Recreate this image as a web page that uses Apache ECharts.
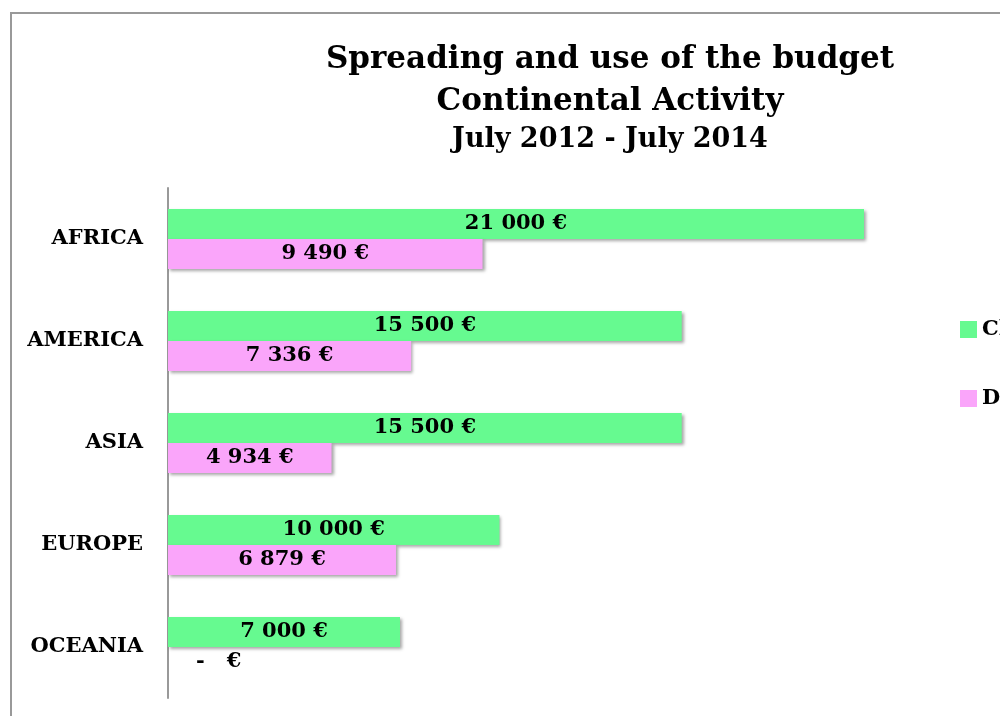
<!DOCTYPE html>
<html>
<head>
  <meta charset="utf-8" />
  <title>Spreading and use of the budget</title>
  <script src="https://cdn.jsdelivr.net/npm/echarts@6/dist/echarts.min.js"></script>
  <style>
    html, body, #main {
      width: 1000px;
      height: 716px;
      padding: 0;
      margin: 0;
      background: #fff;
      overflow: hidden;
    }
  </style>
</head>
<body>
<div id="main"></div>
<script>
  // data
  var continents = ['AFRICA', 'AMERICA', 'ASIA', 'EUROPE', 'OCEANIA'];
  var budgetName = 'Claimed budget';
  var usedName = 'Disbursed';
  var budgetValues = [21000, 15500, 15500, 10000, 7000];
  var usedValues = [9490, 7336, 4934, 6879, 0];

  var serif = 'DejaVu Serif';

  // "21 000 €" style, "-   €" for zero
  function euro(v) {
    if (!v) return '-   €';
    var s = String(Math.round(v));
    return s.replace(/\B(?=(\d{3})+(?!\d))/g, ' ') + ' €';
  }

  var labelStyle = {
    show: true,
    position: 'inside',
    color: '#000',
    fontFamily: serif,
    fontWeight: 'bold',
    fontSize: 21,
    formatter: function (p) { return euro(p.value); }
  };

  var shadow = {
    shadowColor: 'rgba(0,0,0,0.35)',
    shadowBlur: 3,
    shadowOffsetX: 2,
    shadowOffsetY: 2
  };

  var usedData = usedValues.map(function (v) {
    if (v) return v;
    // zero bar: put the dash label out to the right of the axis
    return { value: v, label: { position: 'right', distance: 28 } };
  });

  var chart = echarts.init(document.getElementById('main'), null, { renderer: 'canvas' });

  var option = {
    backgroundColor: '#fff',
    animation: false,
    title: {
      text: 'Spreading and use of the budget\nContinental Activity',
      subtext: 'July 2012 - July 2014',
      left: 605,
      top: 34,
      textAlign: 'center',
      itemGap: 3,
      textStyle: {
        fontFamily: serif,
        fontWeight: 'bold',
        fontSize: 31,
        lineHeight: 42,
        color: '#000'
      },
      subtextStyle: {
        fontFamily: serif,
        fontWeight: 'bold',
        fontSize: 27,
        color: '#000'
      }
    },
    legend: {
      orient: 'vertical',
      left: 955,
      top: 314,
      itemWidth: 17,
      itemHeight: 17,
      itemGap: 48,
      icon: 'rect',
      textStyle: {
        fontFamily: serif,
        fontWeight: 'bold',
        fontSize: 21,
        color: '#000'
      },
      data: [budgetName, usedName]
    },
    grid: {
      left: 168,
      top: 188,
      width: 696,
      height: 510
    },
    xAxis: {
      type: 'value',
      min: 0,
      max: 21000,
      show: false
    },
    yAxis: {
      type: 'category',
      data: continents,
      inverse: true,
      axisLine: { show: true, lineStyle: { color: '#999', width: 2 } },
      axisTick: { show: false },
      axisLabel: {
        margin: 25,
        color: '#000',
        fontFamily: serif,
        fontWeight: 'bold',
        fontSize: 21
      }
    },
    series: [
      {
        name: budgetName,
        type: 'bar',
        barWidth: 30,
        barGap: '0%',
        itemStyle: Object.assign({ color: '#66FA90' }, shadow),
        label: labelStyle,
        data: budgetValues
      },
      {
        name: usedName,
        type: 'bar',
        barWidth: 30,
        itemStyle: Object.assign({ color: '#FAA5FA' }, shadow),
        label: labelStyle,
        data: usedData
      }
    ],
    graphic: [
      {
        // gray frame around the chart area
        type: 'rect',
        shape: { x: 11, y: 13, width: 1200, height: 900 },
        style: { fill: null, stroke: '#999', lineWidth: 2 },
        silent: true
      }
    ]
  };

  chart.setOption(option);
</script>
</body>
</html>
